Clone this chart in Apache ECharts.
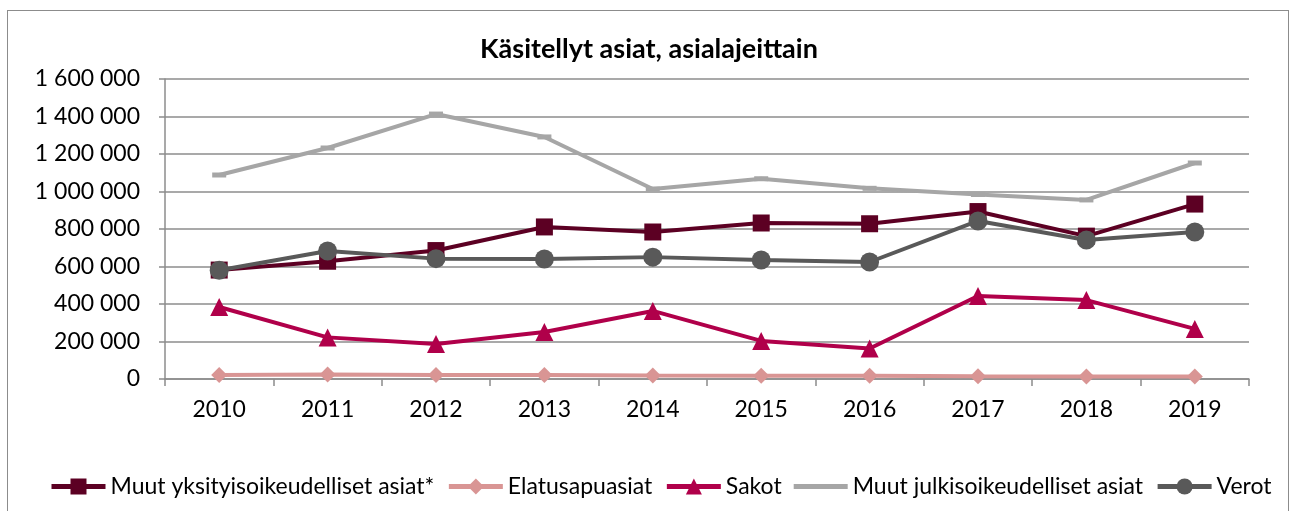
<!DOCTYPE html>
<html>
<head>
<meta charset="utf-8">
<script src="https://cdn.jsdelivr.net/npm/echarts@6/dist/echarts.min.js"></script>
<style>
  html, body { margin: 0; padding: 0; background: #fff; }
  #frame { position: absolute; left: 7px; top: 10px; width: 1282px; height: 510px; border: 1.5px solid #8c8c8c; box-sizing: border-box; }
  #chart { position: absolute; left: 0; top: 0; width: 1298px; height: 511px; }
</style>
</head>
<body>
<div id="frame"></div>
<div id="chart"></div>
<script>
const years = ['2010', '2011', '2012', '2013', '2014', '2015', '2016', '2017', '2018', '2019'];
const yksityis = [581000, 628000, 685000, 811000, 784000, 832000, 828000, 893000, 762000, 933000];
const elatus = [22000, 24000, 22000, 21000, 19000, 18000, 17000, 15000, 14000, 14000];
const sakot = [384000, 222000, 187000, 251000, 363000, 203000, 163000, 443000, 421000, 267000];
const julkis = [1088000, 1232000, 1413000, 1291000, 1013000, 1068000, 1017000, 984000, 955000, 1152000];
const verot = [580000, 683000, 642000, 640000, 650000, 635000, 624000, 843000, 741000, 784000];

const font = 'Lato, "Open Sans", sans-serif';

const chart = echarts.init(document.getElementById('chart'));

function lineSeries(name, data, color, symbol, size) {
  return {
    name: name,
    type: 'line',
    data: data,
    symbol: symbol,
    symbolSize: size,
    showSymbol: true,
    lineStyle: { color: color, width: 4 },
    itemStyle: { color: color },
    animation: false
  };
}

chart.setOption({
  title: {
    text: 'Käsitellyt asiat, asialajeittain',
    left: 'center',
    top: 31,
    textStyle: { fontFamily: font, fontSize: 27, fontWeight: 'bold', color: '#000' }
  },
  legend: {
    bottom: 13,
    left: 49,
    width: 1245,
    padding: 0,
    itemWidth: 54,
    itemHeight: 20,
    itemGap: 12,
    lineStyle: { width: 5 },
    textStyle: { fontFamily: font, fontSize: 23, color: '#000' },
    data: ['Muut yksityisoikeudelliset asiat*', 'Elatusapuasiat', 'Sakot',
      { name: 'Muut julkisoikeudelliset asiat', icon: 'path://M0,0H54V5H0Z' }, 'Verot']
  },
  grid: { left: 165, right: 49, top: 79, bottom: 132 },
  xAxis: {
    type: 'category',
    data: years,
    boundaryGap: true,
    axisLine: { lineStyle: { color: '#8c8c8c', width: 1.5 } },
    axisTick: { show: true, length: 7, lineStyle: { color: '#8c8c8c', width: 1.5 } },
    axisLabel: { fontFamily: font, fontSize: 23, color: '#000', margin: 19 }
  },
  yAxis: {
    type: 'value',
    min: 0,
    max: 1600000,
    interval: 200000,
    axisLine: { show: true, lineStyle: { color: '#8c8c8c', width: 1.5 } },
    axisTick: { show: true, length: 6, lineStyle: { color: '#8c8c8c', width: 1.5 } },
    splitLine: { lineStyle: { color: '#8c8c8c', width: 1.5 } },
    axisLabel: {
      fontFamily: font, fontSize: 23, color: '#000', margin: 25,
      formatter: v => String(v).replace(/\B(?=(\d{3})+(?!\d))/g, ' ')
    }
  },
  series: [
    lineSeries('Muut yksityisoikeudelliset asiat*', yksityis, '#5c0023', 'rect', 17),
    lineSeries('Elatusapuasiat', elatus, '#d99594', 'diamond', 16),
    lineSeries('Sakot', sakot, '#b0004a', 'triangle', 18),
    lineSeries('Muut julkisoikeudelliset asiat', julkis, '#a6a6a6', 'rect', [14, 5]),
    lineSeries('Verot', verot, '#595959', 'circle', 19)
  ]
});
</script>
</body>
</html>
